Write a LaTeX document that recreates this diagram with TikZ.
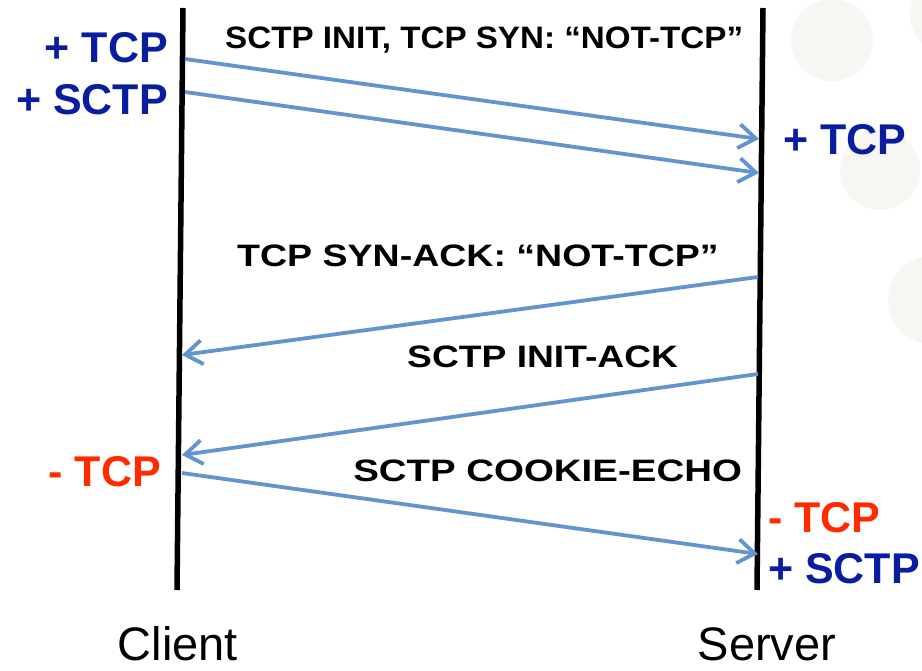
\documentclass[tikz,border=0pt]{standalone}
\usepackage{fontspec}
\setmainfont{Liberation Sans}
\usetikzlibrary{arrows.meta,positioning}
\definecolor{msgblue}{RGB}{98,148,205}
\definecolor{addblue}{RGB}{8,30,158}
\definecolor{dropred}{RGB}{255,42,0}
\definecolor{blob}{RGB}{247,246,243}

\begin{document}
\begin{tikzpicture}[x=1pt,y=-1pt,>={Straight Barb[length=17pt,width=24pt]}]
	\tikzset{lifeline/.style = {line width=5.5pt,black}}
	\tikzset{msg/.style = {->,line width=3.8pt,msgblue}}
	\tikzset{msglabel/.style = {anchor=base west,inner sep=0pt,font=\bfseries\fontsize{31}{33}\selectfont}}
	\tikzset{state/.style = {inner sep=0pt,font=\bfseries\fontsize{43}{45}\selectfont}}
	\tikzset{side/.style = {anchor=base,inner sep=0pt,font=\fontsize{47}{49}\selectfont}}
	\useasboundingbox (0,0) rectangle (922,671);
	\clip (0,0) rectangle (922,671);
	% background
	\fill[blob] (832,40) circle (41);
	\fill[blob] (880,170) circle (40);
	\fill[blob] (932,300) circle (44);
	\fill[blob] (952,14) circle (42);
	% lifelines
	\coordinate (ctop) at (183,8);
	\coordinate (cbot) at (177,590);
	\coordinate (stop) at (763,8);
	\coordinate (sbot) at (757,590);
	\draw[lifeline] (ctop) -- (cbot);
	\draw[lifeline] (stop) -- (sbot);
	% message ends
	\coordinate (c1) at (185,59);
	\coordinate (s1) at (759,139);
	\coordinate (c2) at (185,92);
	\coordinate (s2) at (759,173);
	\coordinate (s3) at (758,277);
	\coordinate (c3) at (182,355);
	\coordinate (s4) at (758,374);
	\coordinate (c4) at (182,455);
	\coordinate (c5) at (182,473);
	\coordinate (s5) at (758,554);
	% messages
	\draw[msg] (c1) -- (s1);
	\draw[msg] (c2) -- (s2);
	\draw[msg] (s3) -- (c3);
	\draw[msg] (s4) -- (c4);
	\draw[msg] (c5) -- (s5);
	% message labels
	\node[msglabel,xscale=1.07] (initlbl) at (225,49) {SCTP INIT, TCP SYN: “NOT-TCP”};
	\node[msglabel,xscale=1.21] (synacklbl) at (237,267) {TCP SYN-ACK: “NOT-TCP”};
	\node[msglabel,xscale=1.2] (initacklbl) at (407,367) {SCTP INIT-ACK};
	\node[msglabel,xscale=1.24] (cookielbl) at (353,481) {SCTP COOKIE-ECHO};
	% state changes
	\node[state,anchor=base east,text=addblue] (cadd1) at (168,63) {+ TCP};
	\node[state,anchor=base east,text=addblue] (cadd2) at (168,115) {+ SCTP};
	\node[state,anchor=base west,text=addblue] (sadd1) at (783,155) {+ TCP};
	\node[state,anchor=base east,text=dropred] (cdrop) at (161,486) {- TCP};
	\node[state,anchor=base west,text=dropred] (sdrop) at (768,532) {- TCP};
	\node[state,anchor=base west,text=addblue] (sadd2) at (768,583) {+ SCTP};
	% endpoints
	\node[side] (client) at (178,660) {Client};
	\node[side] (server) at (767,660) {Server};
\end{tikzpicture}
\end{document}
